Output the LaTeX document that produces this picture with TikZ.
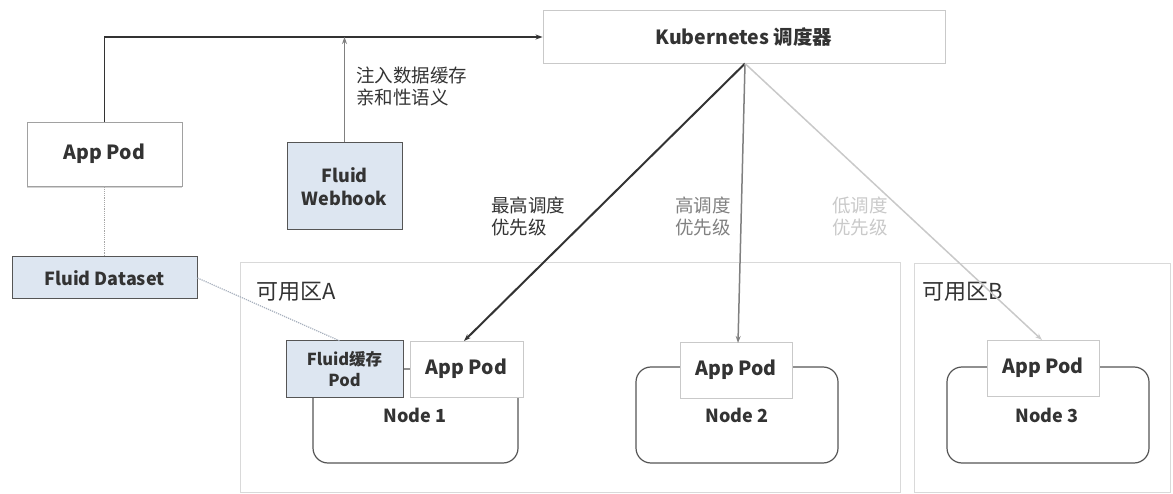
\documentclass[tikz,border=0pt]{standalone}
\usepackage{fontspec}
\setmainfont{Noto Sans CJK SC}
\usepackage{tikz}
\usepackage{xcolor}
\usetikzlibrary{arrows.meta,shadows}

\definecolor{fluidblue}{HTML}{DDE6F1}
\definecolor{edgedark}{HTML}{555555}
\definecolor{edgelight}{HTML}{C9C9C9}
\definecolor{textdark}{HTML}{333333}
\definecolor{linkgray}{HTML}{A7B0BD}

\tikzset{
    podbox/.style={draw=edgelight, fill=white, line width=0.9pt, minimum width=112pt, minimum height=56pt,
        inner sep=0pt, font=\fontsize{19.5}{23}\selectfont\bfseries, text=textdark},
    fluidbox/.style={draw=edgedark, fill=fluidblue, line width=1pt, inner sep=0pt, align=center,
        font=\fontsize{18}{23}\selectfont\bfseries, text=textdark},
    zonebox/.style={draw=edgelight!70, line width=1pt},
    hostbox/.style={draw=edgedark, line width=1.2pt, rounded corners=15pt},
    hostlabel/.style={font=\fontsize{18}{21}\selectfont\bfseries, text=textdark},
    notelabel/.style={anchor=north west, align=left, inner sep=0pt, font=\fontsize{18.5}{22}\selectfont},
    tip/.style={-{Stealth[length=7pt,width=5pt]}}
}

\begin{document}
\begin{tikzpicture}[x=1pt,y=-1pt]
    \useasboundingbox (0,0) rectangle (1173,494);

    % Availability zones
    \draw [zonebox] (240,263) rectangle (900,492);
    \draw [zonebox] (914,264) rectangle (1170,492);
    \node (zoneA) at (256,292) [anchor=west, inner sep=0pt, font=\fontsize{22}{26}\selectfont, text=textdark] {可用区A};
    \node (zoneB) at (922,292) [anchor=west, inner sep=0pt, font=\fontsize{22}{26}\selectfont, text=textdark] {可用区B};

    % Nodes (drawn first, pods sit on top)
    \draw [hostbox] (313,369) rectangle (518,463);
    \draw [hostbox] (636,367) rectangle (838,463);
    \draw [hostbox] (947,367) rectangle (1149,463);
    \node (hostA) at (415,415) [hostlabel] {Node 1};
    \node (hostB) at (737,415) [hostlabel] {Node 2};
    \node (hostC) at (1047,415) [hostlabel] {Node 3};

    % Scheduler
    \node (sched) at (744,37) [draw=edgelight, line width=0.9pt, minimum width=402pt, minimum height=53pt,
        inner sep=0pt, font=\fontsize{19.5}{23}\selectfont\bfseries, text=textdark] {Kubernetes 调度器};

    % App Pod waiting to be scheduled
    \node (pending) at (104.5,154) [podbox, draw=edgelight!80!black, minimum width=155pt, minimum height=64pt,
        drop shadow={shadow xshift=0pt, shadow yshift=-2.5pt, opacity=0.35}] {App Pod};

    % Fluid parts
    \node (hook) at (344.5,186.5) [fluidbox, minimum width=115pt, minimum height=87pt] {Fluid\\Webhook};
    \node (dataset) at (104.5,278) [fluidbox, minimum width=185pt, minimum height=42pt] {Fluid Dataset};
    \node (cache) at (344.5,369) [fluidbox, minimum width=117pt, minimum height=56pt,
        font=\fontsize{16.5}{21}\selectfont\bfseries] {Fluid缓存\\Pod};

    % App Pods on the nodes
    \node (podA) at (466.5,369) [podbox, minimum width=113pt] {App Pod};
    \node (podB) at (736,370) [podbox] {App Pod};
    \node (podC) at (1043,368) [podbox] {App Pod};

    % Submission path
    \coordinate (corner) at (104.5,37);
    \coordinate (join) at (344.5,37);
    \draw [tip, textdark, line width=1.5pt] (pending.north) -- (corner) -- (sched.west);
    \draw [tip, gray, line width=1.2pt] (hook.north) -- (join);
    \node (inject) at (356,67) [notelabel, text=textdark] {注入数据缓存\\亲和性语义};

    % Dataset links
    \draw [densely dotted, gray!70, line width=1.2pt] (pending.south) -- (dataset.north);
    \coordinate (cachetop) at (340,341);
    \draw [densely dotted, linkgray, line width=1.2pt] (dataset.east) -- (cachetop);

    % Scheduling decisions
    \coordinate (fork) at (745,63.5);
    \coordinate (dropA) at (464,341);
    \coordinate (dropB) at (738,343);
    \coordinate (dropC) at (1042,340);
    \draw [tip, textdark, line width=2pt] (fork) -- (dropA);
    \draw [tip, gray, line width=1.5pt] (fork) -- (dropB);
    \draw [tip, edgelight, line width=1.5pt] (fork) -- (dropC);

    % Priority labels
    \node (prioA) at (491,197) [notelabel, text=textdark] {最高调度\\优先级};
    \node (prioB) at (675,197) [notelabel, text=gray] {高调度\\优先级};
    \node (prioC) at (832,197) [notelabel, text=edgelight] {低调度\\优先级};
\end{tikzpicture}
\end{document}
